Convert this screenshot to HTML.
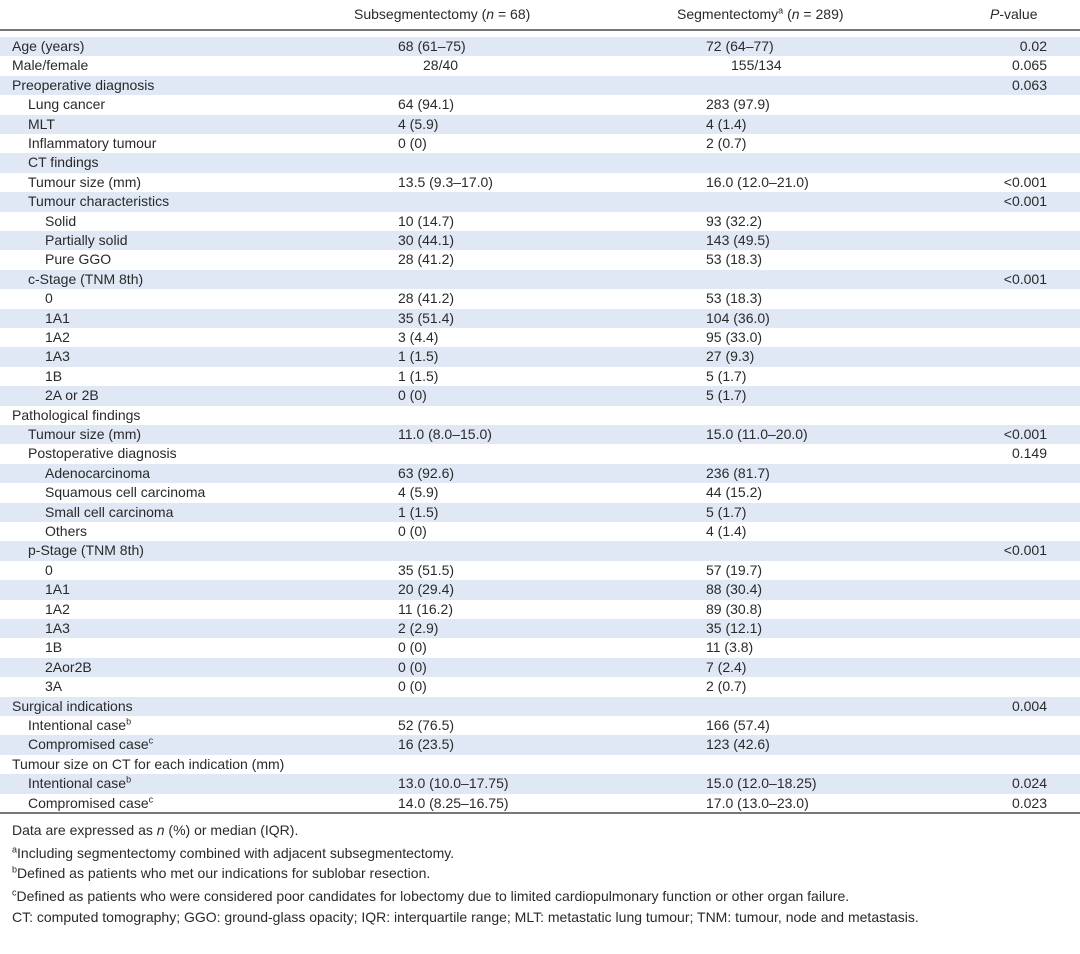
<!DOCTYPE html>
<html><head><meta charset="utf-8"><style>
body{margin:0;width:1080px;height:954px;background:#fff;font-family:"Liberation Sans",sans-serif;font-size:14px;color:#2a2a2a;position:relative;overflow:hidden}
.r{position:absolute;left:0;width:1080px;height:19.4px;line-height:19.4px;white-space:nowrap}
.s{background:#dfe8f4}
.r span{position:absolute}
.a{left:398px}.b{left:706px}.p{right:33px}
.h{position:absolute;top:5px;line-height:18px;white-space:nowrap}
.f{position:absolute;left:12px;white-space:nowrap;line-height:18px}
sup{font-size:9px;line-height:0}
</style></head><body>
<div class="h" style="left:354px">Subsegmentectomy (<i>n</i> = 68)</div>
<div class="h" style="left:677px">Segmentectomy<sup>a</sup> (<i>n</i> = 289)</div>
<div class="h" style="left:990px"><i>P</i>-value</div>
<div style="position:absolute;left:0;top:29px;width:1080px;height:2px;background:#777"></div>
<div style="position:absolute;left:0;top:812px;width:1080px;height:2px;background:#777"></div>

<div class="r s" style="top:37px"><span style="left:12px">Age (years)</span><span class="a">68 (61–75)</span><span class="b">72 (64–77)</span><span class="p">0.02</span></div>
<div class="r" style="top:56.4px"><span style="left:12px">Male/female</span><span style="left:423px">28/40</span><span style="left:731px">155/134</span><span class="p">0.065</span></div>
<div class="r s" style="top:75.8px"><span style="left:12px">Preoperative diagnosis</span><span class="p">0.063</span></div>
<div class="r" style="top:95.2px"><span style="left:28px">Lung cancer</span><span class="a">64 (94.1)</span><span class="b">283 (97.9)</span></div>
<div class="r s" style="top:114.6px"><span style="left:28px">MLT</span><span class="a">4 (5.9)</span><span class="b">4 (1.4)</span></div>
<div class="r" style="top:134px"><span style="left:28px">Inflammatory tumour</span><span class="a">0 (0)</span><span class="b">2 (0.7)</span></div>
<div class="r s" style="top:153.4px"><span style="left:28px">CT findings</span></div>
<div class="r" style="top:172.8px"><span style="left:28px">Tumour size (mm)</span><span class="a">13.5 (9.3–17.0)</span><span class="b">16.0 (12.0–21.0)</span><span class="p">&lt;0.001</span></div>
<div class="r s" style="top:192.2px"><span style="left:28px">Tumour characteristics</span><span class="p">&lt;0.001</span></div>
<div class="r" style="top:211.6px"><span style="left:45px">Solid</span><span class="a">10 (14.7)</span><span class="b">93 (32.2)</span></div>
<div class="r s" style="top:231px"><span style="left:45px">Partially solid</span><span class="a">30 (44.1)</span><span class="b">143 (49.5)</span></div>
<div class="r" style="top:250.4px"><span style="left:45px">Pure GGO</span><span class="a">28 (41.2)</span><span class="b">53 (18.3)</span></div>
<div class="r s" style="top:269.8px"><span style="left:28px">c-Stage (TNM 8th)</span><span class="p">&lt;0.001</span></div>
<div class="r" style="top:289.2px"><span style="left:45px">0</span><span class="a">28 (41.2)</span><span class="b">53 (18.3)</span></div>
<div class="r s" style="top:308.6px"><span style="left:45px">1A1</span><span class="a">35 (51.4)</span><span class="b">104 (36.0)</span></div>
<div class="r" style="top:328px"><span style="left:45px">1A2</span><span class="a">3 (4.4)</span><span class="b">95 (33.0)</span></div>
<div class="r s" style="top:347.4px"><span style="left:45px">1A3</span><span class="a">1 (1.5)</span><span class="b">27 (9.3)</span></div>
<div class="r" style="top:366.8px"><span style="left:45px">1B</span><span class="a">1 (1.5)</span><span class="b">5 (1.7)</span></div>
<div class="r s" style="top:386.2px"><span style="left:45px">2A or 2B</span><span class="a">0 (0)</span><span class="b">5 (1.7)</span></div>
<div class="r" style="top:405.6px"><span style="left:12px">Pathological findings</span></div>
<div class="r s" style="top:425px"><span style="left:28px">Tumour size (mm)</span><span class="a">11.0 (8.0–15.0)</span><span class="b">15.0 (11.0–20.0)</span><span class="p">&lt;0.001</span></div>
<div class="r" style="top:444.4px"><span style="left:28px">Postoperative diagnosis</span><span class="p">0.149</span></div>
<div class="r s" style="top:463.8px"><span style="left:45px">Adenocarcinoma</span><span class="a">63 (92.6)</span><span class="b">236 (81.7)</span></div>
<div class="r" style="top:483.2px"><span style="left:45px">Squamous cell carcinoma</span><span class="a">4 (5.9)</span><span class="b">44 (15.2)</span></div>
<div class="r s" style="top:502.6px"><span style="left:45px">Small cell carcinoma</span><span class="a">1 (1.5)</span><span class="b">5 (1.7)</span></div>
<div class="r" style="top:522px"><span style="left:45px">Others</span><span class="a">0 (0)</span><span class="b">4 (1.4)</span></div>
<div class="r s" style="top:541.4px"><span style="left:28px">p-Stage (TNM 8th)</span><span class="p">&lt;0.001</span></div>
<div class="r" style="top:560.8px"><span style="left:45px">0</span><span class="a">35 (51.5)</span><span class="b">57 (19.7)</span></div>
<div class="r s" style="top:580.2px"><span style="left:45px">1A1</span><span class="a">20 (29.4)</span><span class="b">88 (30.4)</span></div>
<div class="r" style="top:599.6px"><span style="left:45px">1A2</span><span class="a">11 (16.2)</span><span class="b">89 (30.8)</span></div>
<div class="r s" style="top:619px"><span style="left:45px">1A3</span><span class="a">2 (2.9)</span><span class="b">35 (12.1)</span></div>
<div class="r" style="top:638.4px"><span style="left:45px">1B</span><span class="a">0 (0)</span><span class="b">11 (3.8)</span></div>
<div class="r s" style="top:657.8px"><span style="left:45px">2Aor2B</span><span class="a">0 (0)</span><span class="b">7 (2.4)</span></div>
<div class="r" style="top:677.2px"><span style="left:45px">3A</span><span class="a">0 (0)</span><span class="b">2 (0.7)</span></div>
<div class="r s" style="top:696.6px"><span style="left:12px">Surgical indications</span><span class="p">0.004</span></div>
<div class="r" style="top:716px"><span style="left:28px">Intentional case<sup>b</sup></span><span class="a">52 (76.5)</span><span class="b">166 (57.4)</span></div>
<div class="r s" style="top:735.4px"><span style="left:28px">Compromised case<sup>c</sup></span><span class="a">16 (23.5)</span><span class="b">123 (42.6)</span></div>
<div class="r" style="top:754.8px"><span style="left:12px">Tumour size on CT for each indication (mm)</span></div>
<div class="r s" style="top:774.2px"><span style="left:28px">Intentional case<sup>b</sup></span><span class="a">13.0 (10.0–17.75)</span><span class="b">15.0 (12.0–18.25)</span><span class="p">0.024</span></div>
<div class="r" style="top:793.6px"><span style="left:28px">Compromised case<sup>c</sup></span><span class="a">14.0 (8.25–16.75)</span><span class="b">17.0 (13.0–23.0)</span><span class="p">0.023</span></div>

<div class="f" style="top:821px">Data are expressed as <i>n</i> (%) or median (IQR).</div>
<div class="f" style="top:844px"><sup>a</sup>Including segmentectomy combined with adjacent subsegmentectomy.</div>
<div class="f" style="top:864px"><sup>b</sup>Defined as patients who met our indications for sublobar resection.</div>
<div class="f" style="top:887px"><sup>c</sup>Defined as patients who were considered poor candidates for lobectomy due to limited cardiopulmonary function or other organ failure.</div>
<div class="f" style="top:908px">CT: computed tomography; GGO: ground-glass opacity; IQR: interquartile range; MLT: metastatic lung tumour; TNM: tumour, node and metastasis.</div>
</body></html>
